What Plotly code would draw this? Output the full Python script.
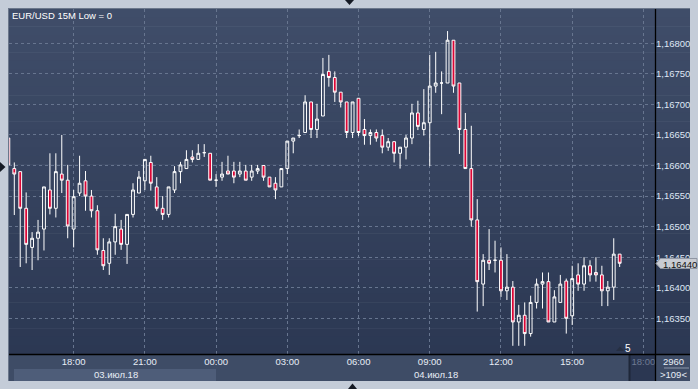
import plotly.graph_objects as go
import pandas as pd

# ---------------- data (EUR/USD, 15-minute candles) ----------------
start_time = "2018-07-03 15:15"
opens = [1.16645, 1.16595, 1.16590, 1.16530, 1.16466, 1.16481, 1.16496, 1.16560, 1.16530, 1.16586,
         1.16576, 1.16496, 1.16555, 1.16575, 1.16550, 1.16526, 1.16461, 1.16440, 1.16475, 1.16496,
         1.16471, 1.16520, 1.16555, 1.16575, 1.16605, 1.16565, 1.16530, 1.16520, 1.16560, 1.16590,
         1.16595, 1.16614, 1.16610, 1.16621, 1.16620, 1.16576, 1.16581, 1.16591, 1.16591, 1.16586,
         1.16591, 1.16581, 1.16591, 1.16600, 1.16581, 1.16571, 1.16565, 1.16595, 1.16640, 1.16649,
         1.16654, 1.16704, 1.16659, 1.16681, 1.16754, 1.16744, 1.16720, 1.16704, 1.16654, 1.16710,
         1.16659, 1.16649, 1.16654, 1.16649, 1.16630, 1.16639, 1.16620, 1.16630, 1.16645, 1.16686,
         1.16659, 1.16670, 1.16730, 1.16735, 1.16735, 1.16805, 1.16735, 1.16659, 1.16595, 1.16511,
         1.16406, 1.16445, 1.16445, 1.16445, 1.16395, 1.16401, 1.16344, 1.16355, 1.16325, 1.16376,
         1.16406, 1.16410, 1.16344, 1.16376, 1.16411, 1.16354, 1.16421, 1.16406, 1.16436, 1.16425,
         1.16421, 1.16395, 1.16401, 1.16455]
highs = [1.16650, 1.16605, 1.16590, 1.16556, 1.16491, 1.16511, 1.16565, 1.16620, 1.16620, 1.16650,
         1.16601, 1.16560, 1.16616, 1.16591, 1.16560, 1.16535, 1.16481, 1.16481, 1.16521, 1.16511,
         1.16520, 1.16571, 1.16591, 1.16610, 1.16616, 1.16581, 1.16550, 1.16565, 1.16599, 1.16606,
         1.16625, 1.16625, 1.16635, 1.16635, 1.16620, 1.16586, 1.16606, 1.16616, 1.16606, 1.16606,
         1.16601, 1.16601, 1.16601, 1.16600, 1.16581, 1.16581, 1.16595, 1.16640, 1.16645, 1.16659,
         1.16715, 1.16704, 1.16701, 1.16776, 1.16781, 1.16754, 1.16720, 1.16704, 1.16704, 1.16710,
         1.16676, 1.16659, 1.16659, 1.16659, 1.16645, 1.16639, 1.16630, 1.16650, 1.16701, 1.16706,
         1.16725, 1.16781, 1.16786, 1.16754, 1.16820, 1.16805, 1.16735, 1.16686, 1.16665, 1.16545,
         1.16455, 1.16496, 1.16477, 1.16466, 1.16455, 1.16411, 1.16372, 1.16376, 1.16387, 1.16415,
         1.16425, 1.16425, 1.16396, 1.16421, 1.16415, 1.16436, 1.16440, 1.16450, 1.16445, 1.16450,
         1.16436, 1.16411, 1.16481, 1.16455]
lows = [1.16598, 1.16519, 1.16434, 1.16440, 1.16429, 1.16445, 1.16461, 1.16520, 1.16515, 1.16555,
        1.16481, 1.16466, 1.16550, 1.16526, 1.16515, 1.16454, 1.16429, 1.16421, 1.16454, 1.16462,
        1.16439, 1.16515, 1.16555, 1.16560, 1.16559, 1.16526, 1.16511, 1.16515, 1.16555, 1.16571,
        1.16595, 1.16605, 1.16610, 1.16614, 1.16576, 1.16565, 1.16575, 1.16586, 1.16571, 1.16581,
        1.16576, 1.16575, 1.16586, 1.16575, 1.16565, 1.16545, 1.16565, 1.16586, 1.16620, 1.16645,
        1.16654, 1.16645, 1.16645, 1.16681, 1.16729, 1.16704, 1.16695, 1.16645, 1.16645, 1.16648,
        1.16634, 1.16634, 1.16639, 1.16620, 1.16624, 1.16605, 1.16595, 1.16610, 1.16635, 1.16658,
        1.16649, 1.16599, 1.16719, 1.16684, 1.16735, 1.16719, 1.16619, 1.16595, 1.16500, 1.16361,
        1.16370, 1.16429, 1.16425, 1.16385, 1.16380, 1.16305, 1.16305, 1.16305, 1.16320, 1.16366,
        1.16366, 1.16344, 1.16344, 1.16376, 1.16325, 1.16339, 1.16395, 1.16395, 1.16410, 1.16410,
        1.16370, 1.16370, 1.16380, 1.16434]
closes = [1.16601, 1.16586, 1.16530, 1.16471, 1.16481, 1.16491, 1.16565, 1.16530, 1.16590, 1.16576,
          1.16501, 1.16549, 1.16571, 1.16550, 1.16526, 1.16462, 1.16436, 1.16475, 1.16500, 1.16471,
          1.16520, 1.16560, 1.16581, 1.16610, 1.16571, 1.16530, 1.16520, 1.16565, 1.16590, 1.16601,
          1.16610, 1.16610, 1.16620, 1.16621, 1.16576, 1.16576, 1.16586, 1.16586, 1.16581, 1.16591,
          1.16576, 1.16591, 1.16595, 1.16581, 1.16565, 1.16560, 1.16595, 1.16640, 1.16645, 1.16649,
          1.16704, 1.16659, 1.16676, 1.16749, 1.16744, 1.16720, 1.16704, 1.16654, 1.16704, 1.16654,
          1.16649, 1.16654, 1.16645, 1.16630, 1.16639, 1.16620, 1.16630, 1.16645, 1.16686, 1.16664,
          1.16670, 1.16730, 1.16735, 1.16735, 1.16805, 1.16730, 1.16659, 1.16595, 1.16511, 1.16410,
          1.16445, 1.16440, 1.16445, 1.16395, 1.16401, 1.16344, 1.16355, 1.16325, 1.16376, 1.16406,
          1.16410, 1.16344, 1.16385, 1.16406, 1.16350, 1.16415, 1.16406, 1.16436, 1.16421, 1.16421,
          1.16395, 1.16401, 1.16455, 1.16440]

price_ticks = [1.16350, 1.16400, 1.16450, 1.16500, 1.16550, 1.16600, 1.16650, 1.16700, 1.16750, 1.16800]
price_labels = ["1,16350", "1,16400", "1,16450", "1,16500", "1,16550", "1,16600", "1,16650",
                "1,16700", "1,16750", "1,16800"]
time_ticks = ["2018-07-03 18:00", "2018-07-03 21:00", "2018-07-04 00:00", "2018-07-04 03:00",
              "2018-07-04 06:00", "2018-07-04 09:00", "2018-07-04 12:00", "2018-07-04 15:00",
              "2018-07-04 18:00"]
time_labels = ["18:00", "21:00", "00:00", "03:00", "06:00", "09:00", "12:00", "15:00",
               "<span style='color:#6d7a92'>18:00</span>"]
date_labels = ["03.июл.18", "04.июл.18"]
title_text = "EUR/USD 15M Low = 0"
last_price_label = "1,16440"

times = pd.date_range(start_time, periods=len(opens), freq="15min")

# ---------------- layout geometry (pixels) ----------------
W, H = 698, 389
PL, PR, PT, PB = 9, 655, 9, 354


def fx(x):
    return (x - PL) / (PR - PL)


def fy(y):
    return (PB - y) / (PB - PT)


FONT = "Liberation Sans, Arial, sans-serif"

fig = go.Figure()
fig.add_trace(go.Candlestick(
    x=times, open=opens, high=highs, low=lows, close=closes,
    increasing=dict(line=dict(color="#ffffff", width=1), fillcolor="rgba(0,0,0,0)"),
    decreasing=dict(line=dict(color="#ffffff", width=1), fillcolor="#dc0636"),
    whiskerwidth=0, hoverinfo="skip", showlegend=False,
))

shapes = []
# dark panel gradient (plot area + right price panel)
top_c = (63, 77, 105)
bot_c = (44, 56, 83)
N = 40
for i in range(N):
    t = i / (N - 1)
    c = tuple(round(top_c[k] + (bot_c[k] - top_c[k]) * t) for k in range(3))
    y0 = PT + (PB - PT) * i / N
    y1 = PT + (PB - PT) * (i + 1) / N
    shapes.append(dict(type="rect", xref="paper", yref="paper", x0=fx(PL), x1=fx(690),
                       y0=fy(y1 + 0.5), y1=fy(y0), fillcolor="rgb(%d,%d,%d)" % c,
                       line=dict(width=0), layer="below"))
# bottom time panel
shapes.append(dict(type="rect", xref="paper", yref="paper", x0=fx(PL), x1=fx(690),
                   y0=fy(381), y1=fy(354), fillcolor="#3e4c66", line=dict(width=0), layer="below"))
# date band for first day
shapes.append(dict(type="rect", xref="paper", yref="paper", x0=fx(14), x1=fx(216),
                   y0=fy(381), y1=fy(369), fillcolor="#4e5d79", line=dict(width=0), layer="below"))
# future area box
shapes.append(dict(type="rect", xref="paper", yref="paper", x0=fx(629), x1=fx(655),
                   y0=fy(381), y1=fy(355), fillcolor="#2b3752", line=dict(width=0), layer="below"))
shapes.append(dict(type="line", xref="paper", yref="paper", x0=fx(629.5), x1=fx(629.5),
                   y0=fy(381), y1=fy(355), line=dict(color="#1e2739", width=2)))
# frame edges
shapes.append(dict(type="line", xref="paper", yref="paper", x0=fx(8.5), x1=fx(8.5),
                   y0=fy(381), y1=fy(8), line=dict(color="#6b778b", width=1)))
shapes.append(dict(type="line", xref="paper", yref="paper", x0=fx(8), x1=fx(690),
                   y0=fy(8.5), y1=fy(8.5), line=dict(color="#6b778b", width=1)))
# black separators
shapes.append(dict(type="line", xref="paper", yref="paper", x0=fx(655.5), x1=fx(655.5),
                   y0=fy(381), y1=fy(9), line=dict(color="#000000", width=1.3)))
shapes.append(dict(type="line", xref="paper", yref="paper", x0=fx(9), x1=fx(690),
                   y0=fy(354.5), y1=fy(354.5), line=dict(color="#000000", width=1.3)))
# line under bar count
shapes.append(dict(type="line", xref="paper", yref="paper", x0=fx(664), x1=fx(689),
                   y0=fy(368), y1=fy(368), line=dict(color="#8c97aa", width=1)))


def tri(points, color, border=None):
    path = "M " + " L ".join("%f,%f" % (fx(a), fy(b)) for a, b in points) + " Z"
    line = dict(width=0) if border is None else dict(color=border, width=1)
    return dict(type="path", xref="paper", yref="paper", path=path, fillcolor=color, line=line)


# navigation triangles
shapes.append(tri([(345, 0), (354, 0), (349.5, 5)], "#151a24"))
shapes.append(tri([(348, 389), (357, 389), (352.5, 383.5)], "#151a24"))
shapes.append(tri([(0, 162), (0, 172), (5.5, 167)], "#151a24"))
# small marker triangle near "5"
shapes.append(tri([(616, 351), (624, 351), (620, 346.5)], "#262f42"))
# last price tag
shapes.append(tri([(656, 263.5), (660.5, 258.5), (697, 258.5), (697, 268.5), (660.5, 268.5)],
                  "#c9ccd3", border="#8f96a3"))

annotations = [
    dict(text=title_text, x=fx(10), y=fy(15.5), xref="paper", yref="paper", xanchor="left",
         yanchor="middle", showarrow=False, font=dict(family=FONT, size=9.5, color="#ffffff")),
    dict(text=date_labels[0], x=fx(116), y=fy(374.5), xref="paper", yref="paper", xanchor="center",
         yanchor="middle", showarrow=False, font=dict(family=FONT, size=9.5, color="#e8edf6")),
    dict(text=date_labels[1], x=fx(436), y=fy(374.5), xref="paper", yref="paper", xanchor="center",
         yanchor="middle", showarrow=False, font=dict(family=FONT, size=9.5, color="#e8edf6")),
    dict(text="5", x=fx(627.5), y=fy(348), xref="paper", yref="paper", xanchor="center",
         yanchor="middle", showarrow=False, font=dict(family=FONT, size=10, color="#ffffff")),
    dict(text=last_price_label, x=fx(661.5), y=fy(264), xref="paper", yref="paper",
         xanchor="left", yanchor="middle", showarrow=False,
         font=dict(family=FONT, size=9.5, color="#111111")),
    dict(text="2960", x=fx(674), y=fy(361.5), xref="paper", yref="paper", xanchor="center",
         yanchor="middle", showarrow=False, font=dict(family=FONT, size=9.5, color="#e8edf6")),
    dict(text=">109<", x=fx(674), y=fy(374.5), xref="paper", yref="paper", xanchor="center",
         yanchor="middle", showarrow=False, font=dict(family=FONT, size=9.5, color="#e8edf6")),
]

fig.update_layout(
    width=W, height=H,
    margin=dict(l=PL, r=W - PR, t=PT, b=H - PB, pad=0),
    paper_bgcolor="#c4ccd8",
    plot_bgcolor="rgba(0,0,0,0)",
    showlegend=False,
    hovermode=False,
    boxgap=0.32,
    shapes=shapes,
    annotations=annotations,
    font=dict(family=FONT, size=9.5, color="#e8edf6"),
    xaxis=dict(
        range=["2018-07-03 15:16:37", "2018-07-04 18:29:17"],
        rangeslider=dict(visible=False),
        tickmode="array", tickvals=time_ticks, ticktext=time_labels,
        showgrid=True, gridcolor="#67758f", gridwidth=1, griddash="3px,3px",
        zeroline=False, showline=False, ticks="", ticklen=0,
        tickfont=dict(family=FONT, size=9.5, color="#e8edf6"),
        fixedrange=True,
    ),
    yaxis=dict(
        range=[1.162916, 1.168561],
        side="right",
        tickmode="array", tickvals=price_ticks, ticktext=price_labels,
        showgrid=True, gridcolor="#67758f", gridwidth=1, griddash="3px,3px",
        zeroline=False, showline=False, ticks="", ticklen=0,
        tickfont=dict(family=FONT, size=9.5, color="#dfe7f5"),
        fixedrange=True,
    ),
)

fig.write_html("out.html")
